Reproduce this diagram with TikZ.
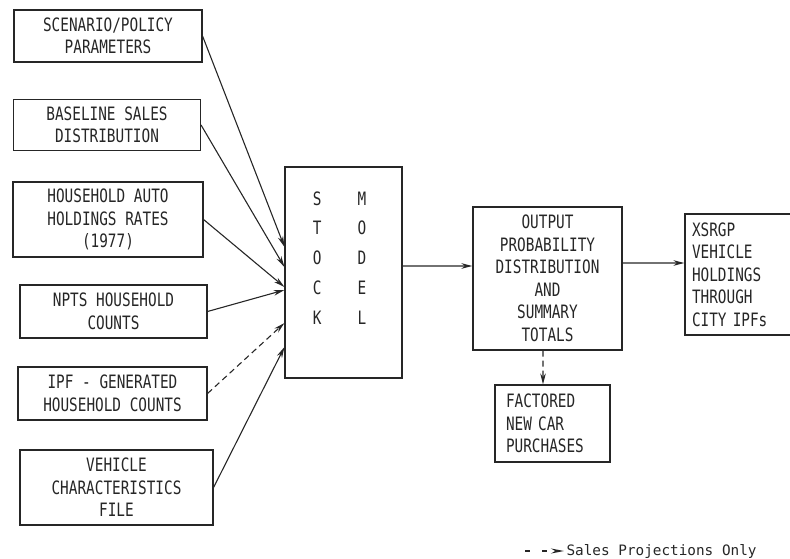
\documentclass[tikz,border=0pt]{standalone}
\usepackage{fontspec}
\usepackage{tikz}
\usetikzlibrary{arrows.meta}
\newfontfamily\typefont[FakeStretch=0.78]{DejaVu Sans Mono}
\newfontfamily\notefont{DejaVu Sans Mono}

\begin{document}
\begin{tikzpicture}[x=1bp, y=-1bp, line width=1.1pt, color=black!85,
    box/.style={rectangle, draw, inner sep=0pt, align=center,
      font=\typefont\fontsize{18.5}{22.6}\selectfont},
    flow/.style={-{Stealth[length=11bp, width=5.5bp]}},
    dflow/.style={flow, dash pattern=on 6bp off 4bp}]
  \useasboundingbox (0,0) rectangle (790,559);

  % inputs
  \node[box, minimum width=188bp, minimum height=52bp] (scenario) at (108,36) {SCENARIO/POLICY\\PARAMETERS};
  \node[box, minimum width=187bp, minimum height=51bp] (baseline) at (107,125) {BASELINE SALES\\DISTRIBUTION};
  \node[box, minimum width=190bp, minimum height=75bp] (autorates) at (108,219.5) {HOUSEHOLD AUTO\\HOLDINGS RATES\\(1977)};
  \node[box, minimum width=187bp, minimum height=53bp] (npts) at (113.5,311.5) {NPTS HOUSEHOLD\\COUNTS};
  \node[box, minimum width=189bp, minimum height=53bp] (ipfcounts) at (112.5,393.5) {IPF - GENERATED\\HOUSEHOLD COUNTS};
  \node[box, minimum width=193bp, minimum height=75bp] (vehicle) at (116.5,487.5) {VEHICLE\\CHARACTERISTICS\\FILE};

  % model
  \node[box, minimum width=117bp, minimum height=211bp] (stock) at (343.5,272.5) {};
  \node[align=center, font=\typefont\fontsize{18.5}{30}\selectfont] (stocktext) at (339.5,258)
    {S\hspace{36bp}M\\T\hspace{36bp}O\\O\hspace{36bp}D\\C\hspace{36bp}E\\K\hspace{36bp}L};

  % outputs
  \node[box, minimum width=149bp, minimum height=143bp] (output) at (547.5,278.5) {OUTPUT\\PROBABILITY\\DISTRIBUTION\\AND\\SUMMARY\\TOTALS};
  \node[box, align=left, text width=101bp, minimum width=115bp, minimum height=121bp] (xsrgp) at (742.5,274.5) {XSRGP\\VEHICLE\\HOLDINGS\\THROUGH\\CITY IPFs};
  \node[box, align=left, text width=93bp, minimum width=115bp, minimum height=77bp] (factored) at (552.5,423.5) {FACTORED\\NEW CAR\\PURCHASES};

  \draw[flow] (scenario.east) -- ([yshift=25.5bp]stock.west);
  \draw[flow] (baseline.east) -- ([yshift=5.5bp]stock.west);
  \draw[flow] (autorates.east) -- ([yshift=-14.5bp]stock.west);
  \draw[flow] (npts.east) -- ([yshift=-17.5bp]stock.west);
  \draw[dflow] (ipfcounts.east) -- ([yshift=-50.5bp]stock.west);
  \draw[flow] (vehicle.east) -- ([yshift=-74.5bp]stock.west);
  \draw[flow] ([yshift=6.5bp]stock.east) -- ([yshift=12.5bp]output.west);
  \draw[flow] ([yshift=15.5bp]output.east) -- ([yshift=11.5bp]xsrgp.west);
  \draw[dflow] ([xshift=-4.5bp]output.south) -- ([xshift=-9.5bp]factored.north);

  % legend
  \coordinate (legstart) at (525,551);
  \node[anchor=west, inner sep=0pt, font=\notefont\fontsize{14.4}{16}\selectfont] (legend) at (566,551) {Sales Projections Only};
  \draw[-{Stealth[length=13bp, width=5bp]}, dash pattern=on 5bp off 12bp] (legstart) -- ([xshift=-2bp]legend.west);
\end{tikzpicture}
\end{document}
